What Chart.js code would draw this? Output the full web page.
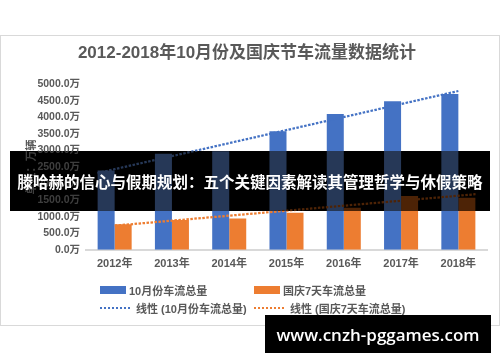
<!DOCTYPE html>
<html>
<head>
<meta charset="utf-8">
<script src="https://cdn.jsdelivr.net/npm/chart.js@4.4.1/dist/chart.umd.min.js"></script>
<style>
html, body { margin: 0; padding: 0; background: #fff; }
body { width: 500px; height: 362px; position: relative; overflow: hidden;
       font-family: "Liberation Sans", "Noto Sans CJK SC", sans-serif; }
#frame { position: absolute; left: 0; top: 35px; width: 500px; height: 291px;
         border: 1px solid #d9d9d9; box-sizing: border-box; }
#chartBox { position: absolute; left: 0; top: 0; width: 498px; height: 248px; }
.lg { position: absolute; display: flex; align-items: center; font-size: 11px;
      font-weight: bold; color: #595959; white-space: nowrap; transform: translateY(-50%); }
.sw { width: 26px; height: 8px; margin-right: 3px; }
.ln { width: 31px; height: 2px; margin-right: 5px; }
#banner { position: absolute; left: 10px; top: 151px; width: 480px; height: 60px;
          backdrop-filter: invert(1) hue-rotate(180deg) brightness(0.4);
          background: rgba(0,0,0,0.05);
          color: #fff; font: bold 15.5px "Noto Sans CJK SC", sans-serif;
          display: flex; align-items: center; justify-content: center; white-space: nowrap; }
#site { position: absolute; left: 265px; top: 315px; width: 226px; height: 38px;
        background: #000; color: #fff; font: 600 17px "Open Sans", sans-serif;
        display: flex; align-items: center; justify-content: center; }
</style>
</head>
<body>
<div id="frame">
  <div id="chartBox"><canvas id="chartFlux"></canvas></div>
  <div id="legend"></div>
</div>
<div id="banner">滕哈赫的信心与假期规划：五个关键因素解读其管理哲学与休假策略</div>
<div id="site">www.cnzh-pggames.com</div>

<script>
// === DONNEES ===
const years = ["2012年", "2013年", "2014年", "2015年", "2016年", "2017年", "2018年"];
const octTotal = [2400, 2900, 2980, 3585, 4105, 4490, 4710];
const holidayTotal = [774, 904, 943, 1120, 1274, 1626, 1575];

// tendances (debut / fin, en index d'annee)
const octTrend = [{ x: -0.3, y: 2320 }, { x: 6.0, y: 4800 }];
const holidayTrend = [{ x: 0.0, y: 730 }, { x: 6.3, y: 1680 }];

const yTickLabels = ["0.0万", "500.0万", "1000.0万", "1500.0万", "2000.0万", "2500.0万",
                     "3000.0万", "3500.0万", "4000.0万", "4500.0万", "5000.0万"];
const seriesNames = ["10月份车流总量", "国庆7天车流总量", "线性 (10月份车流总量)", "线性 (国庆7天车流总量)"];

const blue = "#4472C4";
const orange = "#ED7D31";
const grey = "#595959";
const fontFam = '"Liberation Sans", "Noto Sans CJK SC", sans-serif';

// === GRAPHIQUE ===
let ctx = document.getElementById("chartFlux");

let chart = new Chart(ctx, {
    type: "bar",
    data: {
        datasets: [
            {
                label: seriesNames[0], data: octTotal.map((v, i) => ({ x: i, y: v })),
                backgroundColor: blue, categoryPercentage: 0.594, barPercentage: 1, order: 2
            },
            {
                label: seriesNames[1], data: holidayTotal.map((v, i) => ({ x: i, y: v })),
                backgroundColor: orange, categoryPercentage: 0.594, barPercentage: 1, order: 2
            },
            {
                type: "line", label: seriesNames[2], data: octTrend,
                borderColor: blue, borderWidth: 2.25, borderDash: [2.5, 1.5],
                pointRadius: 0, fill: false, order: 1
            },
            {
                type: "line", label: seriesNames[3], data: holidayTrend,
                borderColor: orange, borderWidth: 2.25, borderDash: [2.5, 1.5],
                pointRadius: 0, fill: false, order: 1
            }
        ]
    },
    options: {
        animation: false,
        responsive: true,
        maintainAspectRatio: false,
        layout: { padding: { left: 6, right: 12, top: 0, bottom: 5 } },
        plugins: {
            legend: { display: false },
            tooltip: { enabled: false },
            title: {
                display: true,
                text: "2012-2018年10月份及国庆节车流量数据统计",
                color: grey,
                font: { size: 17, weight: "bold", family: fontFam },
                padding: { top: 7, bottom: 21 }
            }
        },
        scales: {
            x: {
                type: "linear", min: -0.5, max: 6.5, offset: false,
                afterBuildTicks: (s) => { s.ticks = years.map((y, i) => ({ value: i })); },
                grid: { display: false, drawTicks: false },
                border: { display: true, color: "#d9d9d9", width: 2 },
                ticks: {
                    color: grey, font: { size: 11, weight: "bold", family: fontFam }, padding: 8,
                    autoSkip: false, maxRotation: 0,
                    callback: (v) => years[v]
                }
            },
            y: {
                min: 0, max: 5000,
                afterFit: (s) => { s.width = 79; },
                grid: { display: false, drawTicks: false },
                border: { display: false },
                ticks: {
                    stepSize: 500, padding: 6, color: grey,
                    font: { size: 10.5, weight: "bold", family: fontFam },
                    callback: (v, i) => yTickLabels[i]
                },
                title: {
                    display: true, text: "单位：万辆", color: grey,
                    font: { size: 11, weight: "bold", family: fontFam },
                    padding: { top: 18, bottom: 0 }
                }
            }
        }
    }
});

// === LEGENDE ===
const legendItems = [
    { name: seriesNames[0], color: blue, kind: "sw", left: 99, top: 254 },
    { name: seriesNames[1], color: orange, kind: "sw", left: 253, top: 254 },
    { name: seriesNames[2], color: blue, kind: "ln", left: 99, top: 272 },
    { name: seriesNames[3], color: orange, kind: "ln", left: 253, top: 272 }
];

let legend = document.getElementById("legend");
legendItems.forEach(it => {
    let d = document.createElement("div");
    d.className = "lg";
    d.style.left = it.left + "px";
    d.style.top = it.top + "px";
    let s = document.createElement("span");
    s.className = it.kind;
    if (it.kind === "sw") s.style.background = it.color;
    else s.style.background = "repeating-linear-gradient(90deg," + it.color + " 0 2.5px, transparent 2.5px 4px)";
    d.appendChild(s);
    d.appendChild(document.createTextNode(it.name));
    legend.appendChild(d);
});
</script>
</body>
</html>
